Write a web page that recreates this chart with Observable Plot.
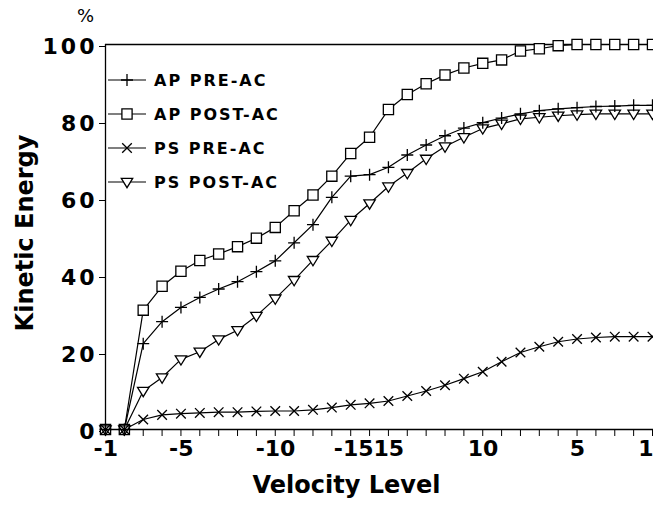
<!DOCTYPE html>
<html><head><meta charset="utf-8">
<script src="https://cdn.jsdelivr.net/npm/d3@7"></script>
<script src="https://cdn.jsdelivr.net/npm/@observablehq/plot@0.6"></script>
<style>
body{margin:0;background:#fff;}
#wrap{position:relative;width:653px;height:523px;overflow:hidden;background:#fff;}
#legend{position:absolute;left:107px;top:63px;font-family:"DejaVu Sans";font-weight:bold;font-size:16px;letter-spacing:2px;color:#000;}
#legend .row{display:flex;align-items:center;height:34px;}
#legend svg{margin-right:7px;overflow:visible}
g[aria-label="y-axis tick label"] text{letter-spacing:3px}
g[aria-label="x labels"] text{letter-spacing:0.6px}
g[aria-label="x title"] text{letter-spacing:2.9px}
g[aria-label="y title"] text{letter-spacing:3.3px}
</style></head><body><div id="wrap"><div id="legend"></div></div>
<script>
const levels = ["-1","-2","-3","-4","-5","-6","-7","-8","-9","-10","-11","-12","-13","-14","-15",
                "15","14","13","12","11","10","9","8","7","6","5","4","3","2","1"];
const tickLabels = ["-1","-5","-10","-15","15","10","5","1"];
const yTicks = [0,20,40,60,80,100];
const seriesNames = ["AP PRE-AC","AP POST-AC","PS PRE-AC","PS POST-AC"];

const apPre  = [0,0,22.3,28.0,31.7,34.3,36.5,38.4,41.0,43.8,48.5,53.2,60.3,65.8,66.2,68.1,71.3,73.9,76.3,78.3,79.7,80.9,82.0,82.8,83.3,83.6,83.9,84.0,84.2,84.2];
const apPost = [0,0,31.0,37.2,41.1,43.9,45.6,47.5,49.7,52.5,56.8,60.9,65.8,71.7,75.9,83.1,87.0,89.8,92.1,93.9,95.1,96.0,98.3,98.9,99.7,100,100,100,100,100];
const psPre  = [0,0,2.6,3.8,4.1,4.3,4.5,4.5,4.7,4.8,4.8,5.1,5.7,6.4,6.8,7.4,8.7,10.0,11.5,13.2,15.0,17.6,20.0,21.5,22.8,23.5,23.9,24.1,24.1,24.1];
const psPost = [0,0,10.0,13.5,18.2,20.2,23.4,25.8,29.5,34.0,38.8,44.0,49.0,54.4,58.7,63.1,66.6,70.3,73.5,75.9,78.2,79.4,80.7,81.1,81.5,81.8,82.0,82.0,82.0,82.0];

const symPlus = {draw(c,size){const r=Math.sqrt(size/Math.PI); c.moveTo(-r,0); c.lineTo(r,0); c.moveTo(0,-r); c.lineTo(0,r);}};
const symSquare = {draw(c,size){const r=Math.sqrt(size/Math.PI)*0.85; c.moveTo(-r,-r); c.lineTo(r,-r); c.lineTo(r,r); c.lineTo(-r,r); c.closePath();}};
const symTimes = {draw(c,size){const r=Math.sqrt(size/Math.PI)*0.8; c.moveTo(-r,-r); c.lineTo(r,r); c.moveTo(-r,r); c.lineTo(r,-r);}};
const symTri = {draw(c,size){const r=Math.sqrt(size/Math.PI); c.moveTo(-r*0.95,-r*0.6); c.lineTo(r*0.95,-r*0.6); c.lineTo(0,r*0.95); c.closePath();}};

const series = [
  {name: seriesNames[0], values: apPre,  symbol: symPlus,   fill: "none"},
  {name: seriesNames[1], values: apPost, symbol: symSquare, fill: "white"},
  {name: seriesNames[2], values: psPre,  symbol: symTimes,  fill: "none"},
  {name: seriesNames[3], values: psPost, symbol: symTri,    fill: "white"}
];
const idx = levels.map((_, i) => i);
const rows = s => s.values.map((v,i) => ({i, level: levels[i], value: v, series: s.name}));
const drawOrder = [1,3,0,2];
const F = "DejaVu Sans";
const labelIdx = tickLabels.map(l => levels.indexOf(l));
const minus15 = levels.indexOf("-15");
const lastIdx = levels.length - 1;

const labelOpts = {x: d => d, text: d => levels[d], frameAnchor: "bottom", lineAnchor: "middle", dy: 19, fontSize: 22, fontWeight: "bold", fontFamily: F, ariaLabel: "x labels"};

const marks = [
  Plot.ruleY([0], {stroke:"black", strokeWidth:1.3}),
  Plot.ruleY([100], {stroke:"black", strokeWidth:1.3}),
  Plot.ruleX([0], {y1:0, y2:100, stroke:"black", strokeWidth:1.3}),
  Plot.axisY({ticks: yTicks, tickSize: 6, tickPadding: 2, fontSize: 22, fontWeight: "bold", fontFamily: F, label: null, dy: 2}),
  Plot.axisX({ticks: idx, tickSize: 7, tickFormat: () => "", label: null}),
  Plot.text(labelIdx.filter(i => i !== minus15 && i !== lastIdx), {...labelOpts, dx: 0.3}),
  Plot.text(labelIdx.filter(i => i === minus15), {...labelOpts, dx: 4, textAnchor: "end"}),
  Plot.text(labelIdx.filter(i => i === lastIdx), {...labelOpts, dx: 1, textAnchor: "end"}),
  Plot.text(["Velocity Level"], {frameAnchor: "bottom", lineAnchor: "middle", textAnchor: "middle", dx: -33, dy: 56, fontSize: 24, fontWeight: "bold", fontFamily: F, ariaLabel: "x title"}),
  Plot.text(["Kinetic Energy"], {frameAnchor: "left", lineAnchor: "middle", textAnchor: "middle", dx: -80, dy: -4, rotate: -90, fontSize: 24, fontWeight: "bold", fontFamily: F, ariaLabel: "y title"}),
  Plot.text(["%"], {frameAnchor: "top-left", lineAnchor: "middle", textAnchor: "middle", dx: -20, dy: -28, fontSize: 18, fontFamily: F}),
  ...series.map(s => Plot.line(rows(s), {x: "i", y: "value", stroke: "black", strokeWidth: 1.2})),
  ...drawOrder.map(k => Plot.dot(rows(series[k]), {x: "i", y: "value", symbol: series[k].symbol, r: 6, stroke: "black", strokeWidth: 1.3, fill: series[k].fill}))
];

const chart = Plot.plot({
  width: 653, height: 523,
  marginLeft: 105, marginRight: 0, marginTop: 44, marginBottom: 94,
  style: {fontFamily: F, color: "black", background: "white", overflow: "hidden"},
  x: {domain: [0, lastIdx], range: [105, 652]},
  y: {domain: [0, 100]},
  marks
});
const wrap = document.getElementById("wrap");
wrap.insertBefore(chart, wrap.firstChild);

// legend overlay
const legend = d3.select("#legend");
for (const s of series) {
  const row = legend.append("div").attr("class", "row");
  const svg = row.append("svg").attr("width", 40).attr("height", 16);
  svg.append("line").attr("x1", 1).attr("x2", 39).attr("y1", 8).attr("y2", 8).attr("stroke", "black").attr("stroke-width", 1.2);
  svg.append("path").attr("transform", "translate(20,8)")
    .attr("d", d3.symbol(s.symbol, Math.PI * 36)())
    .attr("fill", s.fill).attr("stroke", "black").attr("stroke-width", 1.3);
  row.append("span").text(s.name);
}
</script></body></html>
